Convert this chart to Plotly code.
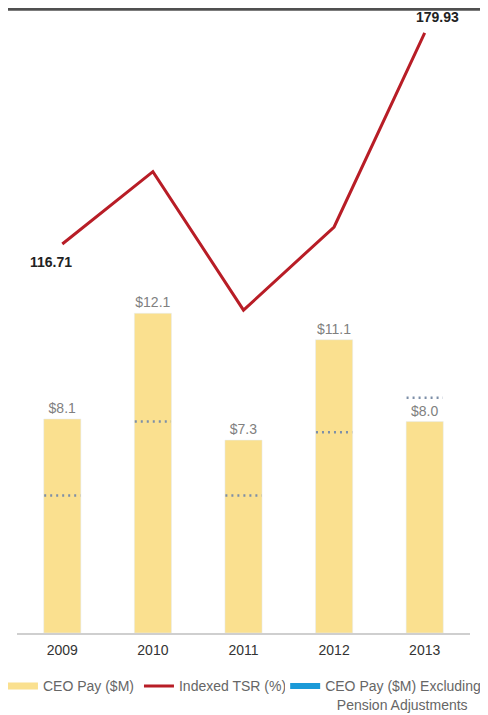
import plotly.graph_objects as go

years = ["2009", "2010", "2011", "2012", "2013"]
ceo_pay = [8.1, 12.1, 7.3, 11.1, 8.0]
ceo_pay_ex_pension = [5.2, 8.0, 5.2, 7.6, 8.9]
indexed_tsr = [116.71, 138.4, 96.9, 121.8, 179.93]

BAR_COLOR = "#fae08f"
LINE_COLOR = "#b81d26"
DOT_COLOR = "#7d8fa8"
LEGEND_BLUE = "#1b9ad8"
FONT = "Liberation Sans, Arial, sans-serif"

xpos = list(range(len(years)))
half = 0.2
seg_x, seg_y = [], []
for i, v in zip(xpos, ceo_pay_ex_pension):
    seg_x += [i - half, i + half, None]
    seg_y += [v, v, None]

fig = go.Figure()

# legend entry for bars
fig.add_trace(go.Scatter(x=[None], y=[None], mode="lines", name="CEO Pay ($M)",
                         legendgroup="pay", line=dict(color=BAR_COLOR, width=7)))
fig.add_trace(go.Bar(x=xpos, y=ceo_pay, width=0.41, marker_color=BAR_COLOR,
                     legendgroup="pay", showlegend=False,
                     texttemplate="$%{y:.1f}", textposition="outside",
                     textfont=dict(color="#808080", size=14, family=FONT),
                     cliponaxis=False, hoverinfo="skip"))
fig.add_trace(go.Scatter(x=xpos, y=indexed_tsr, mode="lines", name="Indexed TSR (%)",
                         yaxis="y2", line=dict(color=LINE_COLOR, width=3)))
fig.add_trace(go.Scatter(x=seg_x, y=seg_y, mode="lines", legendgroup="ex",
                         showlegend=False, legend="legend2",
                         line=dict(color=DOT_COLOR, width=2.5, dash="2px,4px")))
fig.add_trace(go.Scatter(x=[None], y=[None], mode="lines",
                         name="CEO Pay ($M) Excluding<br>&nbsp;&nbsp;&nbsp;Pension Adjustments",
                         legendgroup="ex", legend="legend2",
                         line=dict(color=LEGEND_BLUE, width=6)))

for idx, xs, ys in [(0, -11, -18), (len(years) - 1, 13, 16)]:
    fig.add_annotation(x=xpos[idx], y=indexed_tsr[idx], yref="y2",
                       text=f"<b>{indexed_tsr[idx]:.2f}</b>", showarrow=False,
                       xshift=xs, yshift=ys,
                       font=dict(size=14, color="#222222", family=FONT))

fig.add_shape(type="line", xref="paper", yref="paper",
              x0=-0.03, x1=1.05, y0=1.0174, y1=1.0174,
              line=dict(color="#505050", width=3))

legend_common = dict(orientation="h", xanchor="left", y=-0.061, yanchor="top",
                     valign="top", itemwidth=30, tracegroupgap=0,
                     font=dict(size=14, color="#666666", family=FONT))

fig.update_layout(
    width=480, height=707,
    margin=dict(l=9, r=18, t=12, b=82, autoexpand=False),
    paper_bgcolor="white", plot_bgcolor="white",
    font=dict(family=FONT, color="#666666", size=14),
    xaxis=dict(range=[-0.5, 4.5], tickvals=xpos, ticktext=years,
               showline=True, linecolor="#cfcfcf", linewidth=2,
               showgrid=False, zeroline=False, ticks="", ticklabelstandoff=3,
               tickfont=dict(size=14, color="#333333", family=FONT)),
    yaxis=dict(range=[0, 23.2], visible=False, showgrid=False, zeroline=False),
    yaxis2=dict(range=[0.2, 183.8], overlaying="y", visible=False,
                showgrid=False, zeroline=False),
    legend=dict(x=-0.031, **legend_common),
    legend2=dict(x=0.592, **legend_common),
    showlegend=True,
)

fig.write_html("out.html")
